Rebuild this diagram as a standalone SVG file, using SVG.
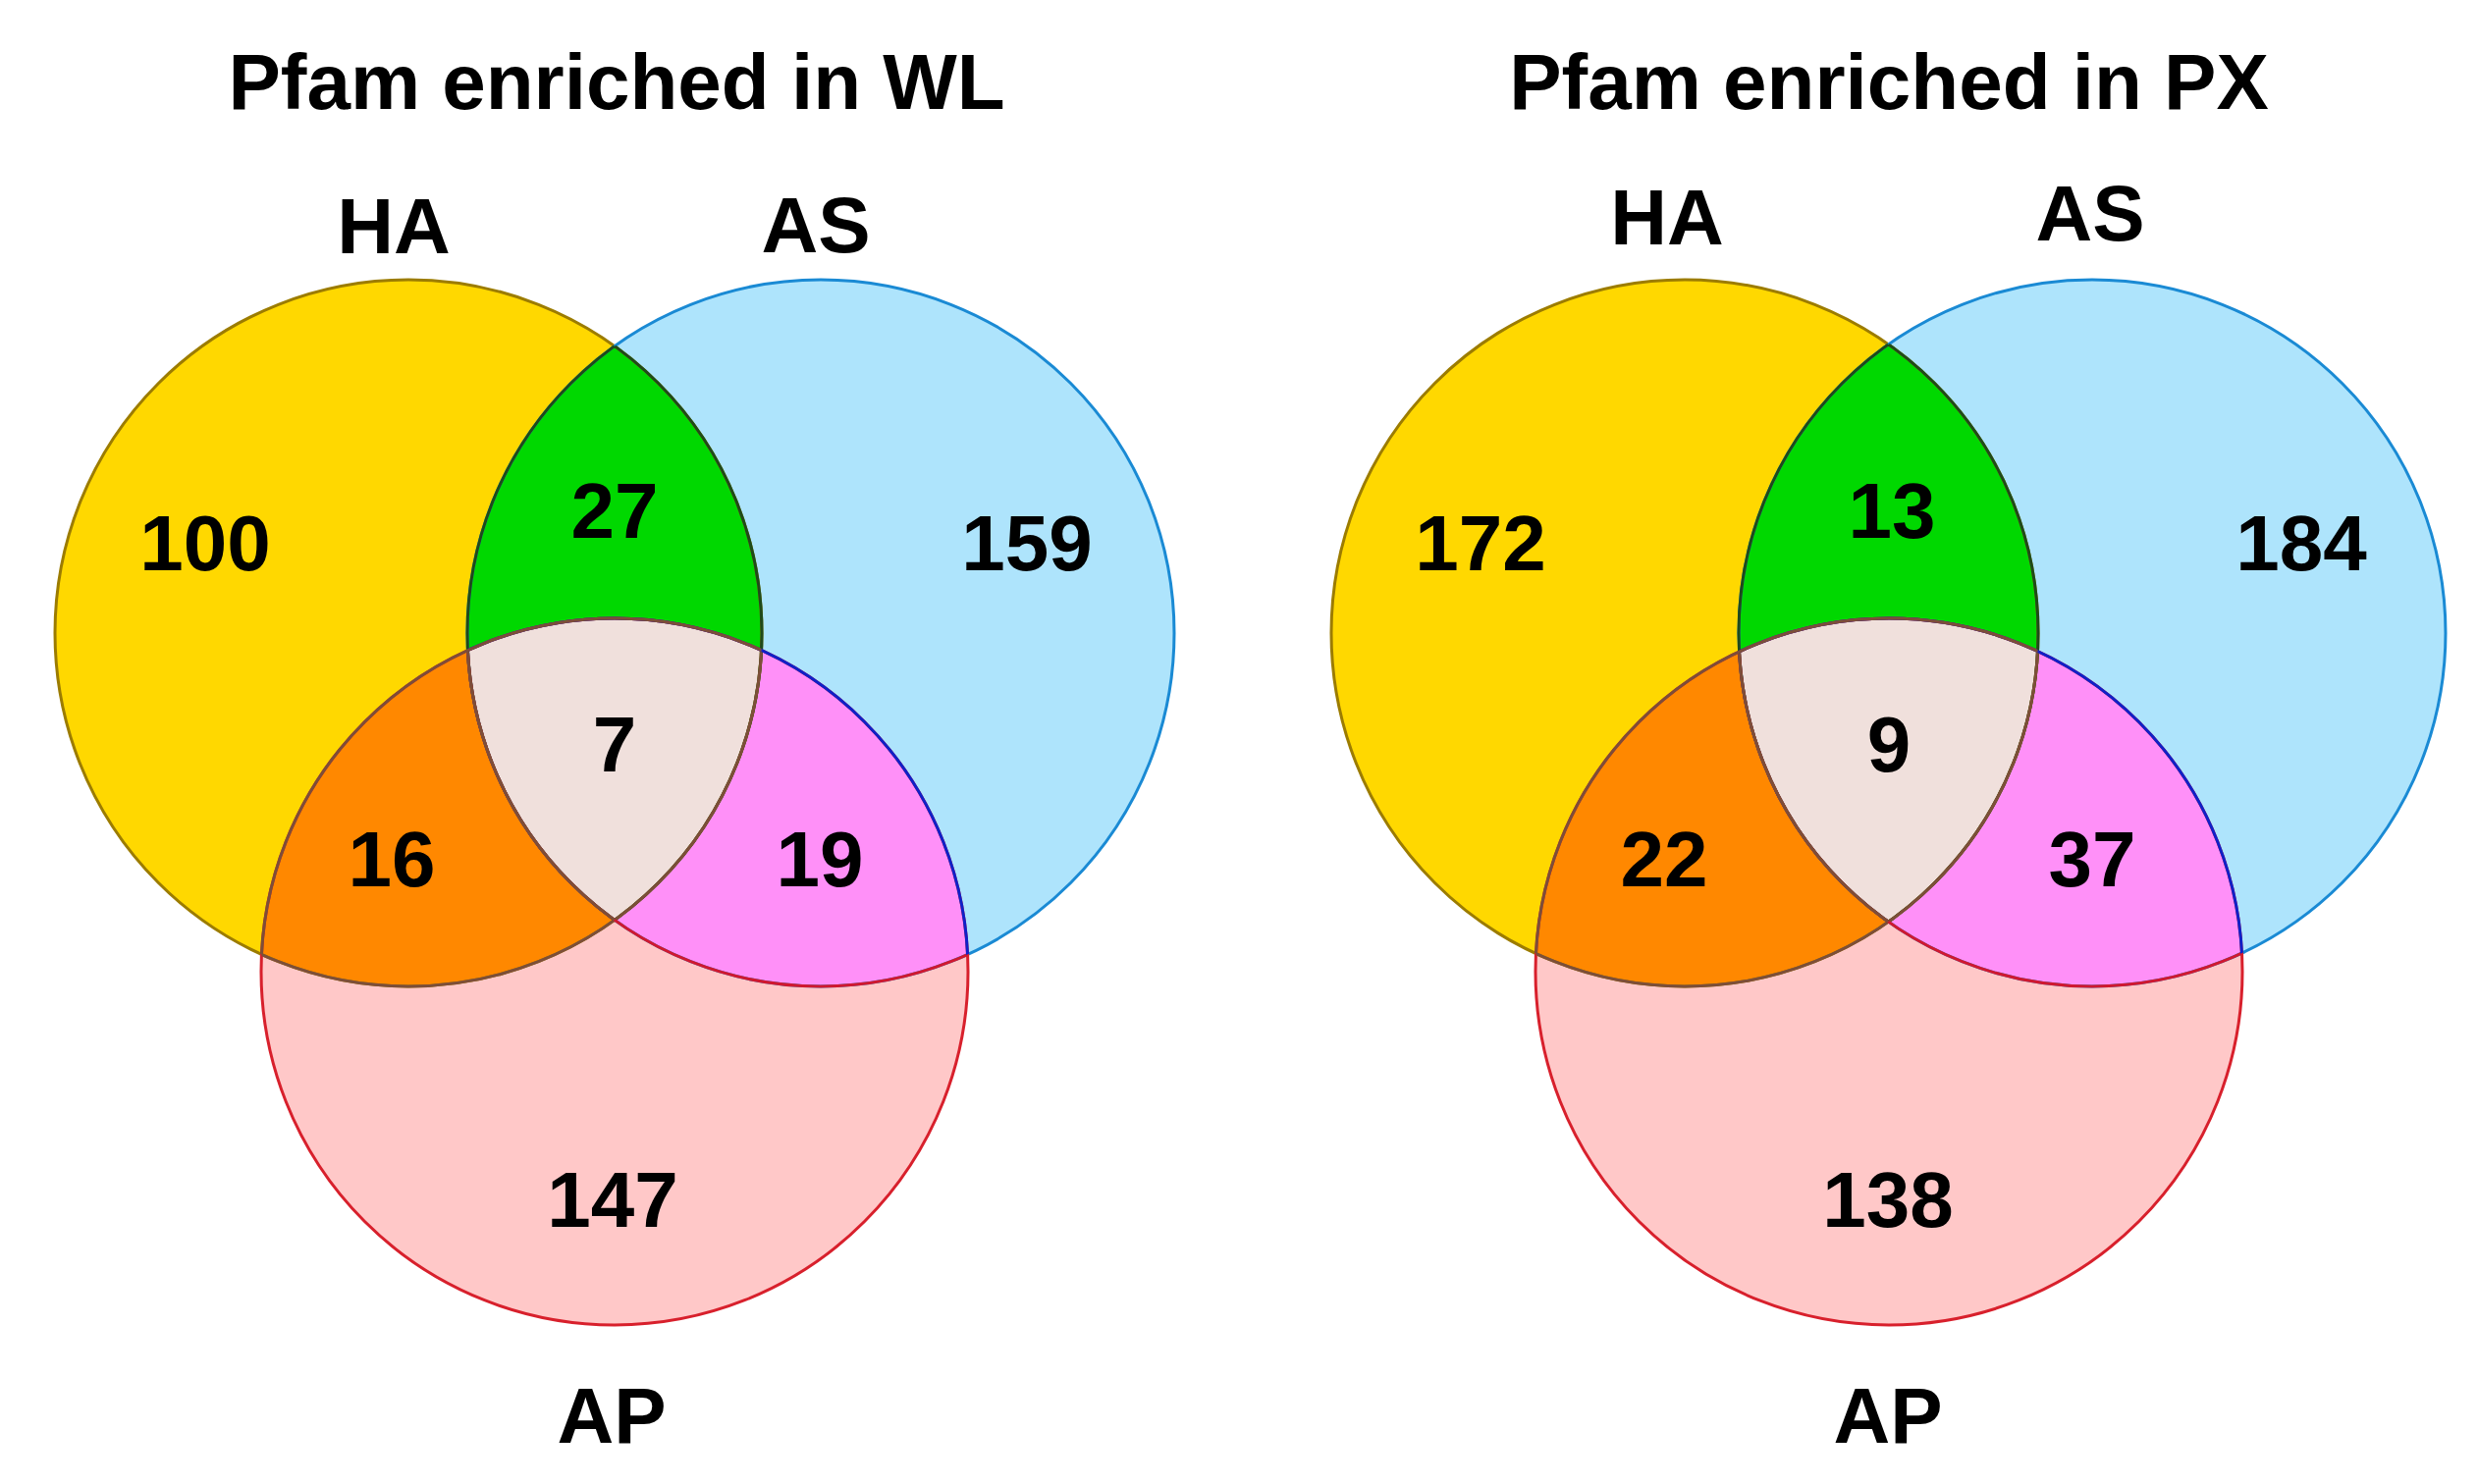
<svg xmlns="http://www.w3.org/2000/svg" width="2523" height="1512" viewBox="0 0 2523 1512">
<style>
.t{font-family:"Liberation Sans",Arial,sans-serif;font-weight:bold;font-size:80px;text-anchor:middle;fill:#000}
.s{fill:none;stroke-width:3}
.ha{fill:#FFD800}.as{fill:#AEE4FC}.ap{fill:#FFC8C8}
.g{fill:#00D800}.o{fill:#FF8800}.m{fill:#FF90F8}.c{fill:#F0E0DC}
.sHA{stroke:#9C7C00}.sAS{stroke:#1A8AD4}.sAP{stroke:#D8202C}
.sDG{stroke:#1F4A1A}.sBR{stroke:#7D4E38}.sRD{stroke:#D01830}.sDB{stroke:#1020C8}
</style>
<defs>
<clipPath id="L-cHA"><circle cx="416" cy="645" r="360"/></clipPath>
<clipPath id="L-cAS"><circle cx="836" cy="645" r="360"/></clipPath>
<clipPath id="L-cAP"><circle cx="626" cy="990" r="360"/></clipPath>
<clipPath id="R-cHA"><circle cx="1716" cy="645" r="360"/></clipPath>
<clipPath id="R-cAS"><circle cx="2131" cy="645" r="360"/></clipPath>
<clipPath id="R-cAP"><circle cx="1924" cy="990" r="360"/></clipPath>
</defs>
<rect width="2523" height="1512" fill="#fff"/>

<!-- Left diagram -->
<g id="L-venn">
<g id="L-HA"><circle class="ha" cx="416" cy="645" r="360"/></g>
<g id="L-AS"><circle class="as" cx="836" cy="645" r="360"/></g>
<g id="L-AP"><circle class="ap" cx="626" cy="990" r="360"/></g>
<g id="L-HA-AS" clip-path="url(#L-cHA)"><circle class="g" cx="836" cy="645" r="360"/></g>
<g id="L-HA-AP" clip-path="url(#L-cHA)"><circle class="o" cx="626" cy="990" r="360"/></g>
<g id="L-AS-AP" clip-path="url(#L-cAS)"><circle class="m" cx="626" cy="990" r="360"/></g>
<g id="L-ALL" clip-path="url(#L-cHA)"><g clip-path="url(#L-cAS)"><circle class="c" cx="626" cy="990" r="360"/></g></g>
<g id="L-outlines">
<circle class="s sHA" cx="416" cy="645" r="360"/>
<circle class="s sAS" cx="836" cy="645" r="360"/>
<circle class="s sAP" cx="626" cy="990" r="360"/>
<circle class="s sDG" cx="416" cy="645" r="360" clip-path="url(#L-cAS)"/>
<circle class="s sBR" cx="416" cy="645" r="360" clip-path="url(#L-cAP)"/>
<circle class="s sDG" cx="836" cy="645" r="360" clip-path="url(#L-cHA)"/>
<circle class="s sRD" cx="836" cy="645" r="360" clip-path="url(#L-cAP)"/>
<g clip-path="url(#L-cHA)"><circle class="s sBR" cx="836" cy="645" r="360" clip-path="url(#L-cAP)"/></g>
<circle class="s sDB" cx="626" cy="990" r="360" clip-path="url(#L-cAS)"/>
<circle class="s sBR" cx="626" cy="990" r="360" clip-path="url(#L-cHA)"/>
</g>
<text class="t" x="628" y="111">Pfam enriched in WL</text>
<text class="t" x="401" y="258">HA</text>
<text class="t" x="831" y="257">AS</text>
<text class="t" x="623" y="1470">AP</text>
<text class="t" x="209" y="581">100</text>
<text class="t" x="626" y="548">27</text>
<text class="t" x="1046" y="581">159</text>
<text class="t" x="626" y="786">7</text>
<text class="t" x="399" y="903">16</text>
<text class="t" x="835" y="903">19</text>
<text class="t" x="624" y="1250">147</text>
</g>

<!-- Right diagram -->
<g id="R-venn">
<g id="R-HA"><circle class="ha" cx="1716" cy="645" r="360"/></g>
<g id="R-AS"><circle class="as" cx="2131" cy="645" r="360"/></g>
<g id="R-AP"><circle class="ap" cx="1924" cy="990" r="360"/></g>
<g id="R-HA-AS" clip-path="url(#R-cHA)"><circle class="g" cx="2131" cy="645" r="360"/></g>
<g id="R-HA-AP" clip-path="url(#R-cHA)"><circle class="o" cx="1924" cy="990" r="360"/></g>
<g id="R-AS-AP" clip-path="url(#R-cAS)"><circle class="m" cx="1924" cy="990" r="360"/></g>
<g id="R-ALL" clip-path="url(#R-cHA)"><g clip-path="url(#R-cAS)"><circle class="c" cx="1924" cy="990" r="360"/></g></g>
<g id="R-outlines">
<circle class="s sHA" cx="1716" cy="645" r="360"/>
<circle class="s sAS" cx="2131" cy="645" r="360"/>
<circle class="s sAP" cx="1924" cy="990" r="360"/>
<circle class="s sDG" cx="1716" cy="645" r="360" clip-path="url(#R-cAS)"/>
<circle class="s sBR" cx="1716" cy="645" r="360" clip-path="url(#R-cAP)"/>
<circle class="s sDG" cx="2131" cy="645" r="360" clip-path="url(#R-cHA)"/>
<circle class="s sRD" cx="2131" cy="645" r="360" clip-path="url(#R-cAP)"/>
<g clip-path="url(#R-cHA)"><circle class="s sBR" cx="2131" cy="645" r="360" clip-path="url(#R-cAP)"/></g>
<circle class="s sDB" cx="1924" cy="990" r="360" clip-path="url(#R-cAS)"/>
<circle class="s sBR" cx="1924" cy="990" r="360" clip-path="url(#R-cHA)"/>
</g>
<text class="t" x="1924" y="111">Pfam enriched in PX</text>
<text class="t" x="1698" y="249">HA</text>
<text class="t" x="2129" y="245">AS</text>
<text class="t" x="1923" y="1470">AP</text>
<text class="t" x="1508" y="581">172</text>
<text class="t" x="1927" y="548">13</text>
<text class="t" x="2344" y="581">184</text>
<text class="t" x="1924" y="786">9</text>
<text class="t" x="1695" y="903">22</text>
<text class="t" x="2131" y="903">37</text>
<text class="t" x="1923" y="1250">138</text>
</g>
</svg>
